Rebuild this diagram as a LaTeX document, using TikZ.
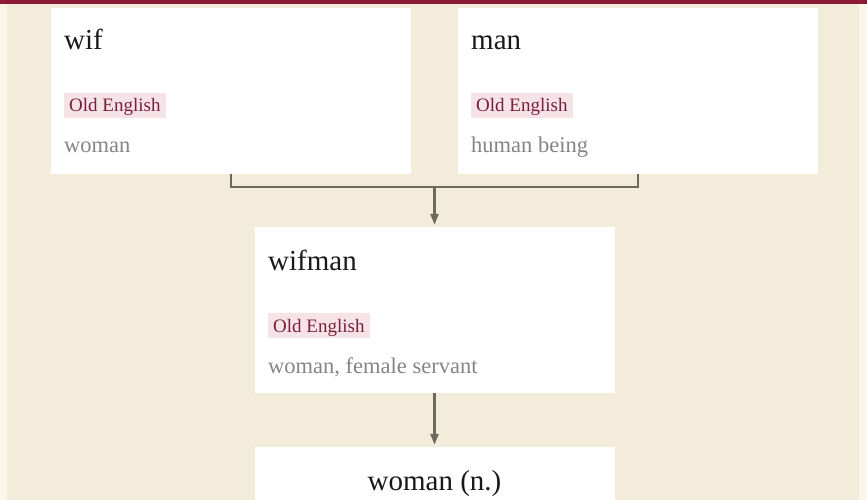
\documentclass[tikz,border=0pt]{standalone}
\usepackage{fontspec}
\setmainfont{Liberation Serif}
\usetikzlibrary{arrows.meta}

\definecolor{paper}{HTML}{F3ECDB}
\definecolor{edgepaper}{HTML}{FAF6EA}
\definecolor{barred}{HTML}{8E1B35}
\definecolor{tagfill}{HTML}{F6E3E7}
\definecolor{tagtext}{HTML}{7A1F3D}
\definecolor{glossgrey}{HTML}{858585}
\definecolor{linkgrey}{HTML}{6E695C}

\tikzset{
    wordbox/.style={fill=white, inner sep=0pt, minimum width=360pt, minimum height=166pt},
    headword/.style={anchor=base west, inner sep=0pt, font=\fontsize{29}{32}\selectfont, text=black!90},
    langtag/.style={anchor=base west, fill=tagfill, text=tagtext, inner xsep=5pt, inner ysep=0pt,
        text height=19pt, text depth=6pt, font=\fontsize{19}{22}\selectfont},
    gloss/.style={anchor=base west, inner sep=0pt, text=glossgrey, font=\fontsize{22.5}{25}\selectfont},
    link/.style={draw=linkgrey, line width=2.5pt},
    linkarrow/.style={link, -{Triangle[width=8pt, length=11pt]}, shorten >=2pt},
}

\begin{document}
\begin{tikzpicture}[x=1pt, y=-1pt]
            \useasboundingbox (0, 0) rectangle (867, 500);
            \fill[edgepaper] (0, 0) rectangle (867, 500);
            \fill[paper] (7, 0) rectangle (859, 500);
            \fill[barred] (0, 0) rectangle (867, 4);
            % source words
            \node[wordbox] (wif) at (231, 91) {};
            \node[wordbox] (man) at (638, 91) {};
            \node[wordbox] (wifman) at (434.5, 310) {};
            \node[wordbox, minimum height=80pt] (woman) at (434.5, 487) {};
            \node[headword] (wifhead) at (64, 50) {wif};
            \node[langtag] (wiftag) at (64, 112) {Old English};
            \node[gloss] (wifgloss) at (64, 153) {woman};
            \node[headword] (manhead) at (471, 50) {man};
            \node[langtag] (mantag) at (471, 112) {Old English};
            \node[gloss] (mangloss) at (471, 153) {human being};
            \node[headword] (wifmanhead) at (268, 270) {wifman};
            \node[langtag] (wifmantag) at (268, 332) {Old English};
            \node[gloss] (wifmangloss) at (268, 373) {woman, female servant};
            \node[headword, anchor=base] (womanhead) at (434.5, 490) {woman (n.)};
            % connectors
            \coordinate (join) at (434.5, 187);
            \draw[link] (wif.south) |- (join) -| (man.south);
            \draw[linkarrow] (join) -- (wifman.north);
            \draw[linkarrow] (wifman.south) -- (woman.north);
        \end{tikzpicture}
\end{document}
